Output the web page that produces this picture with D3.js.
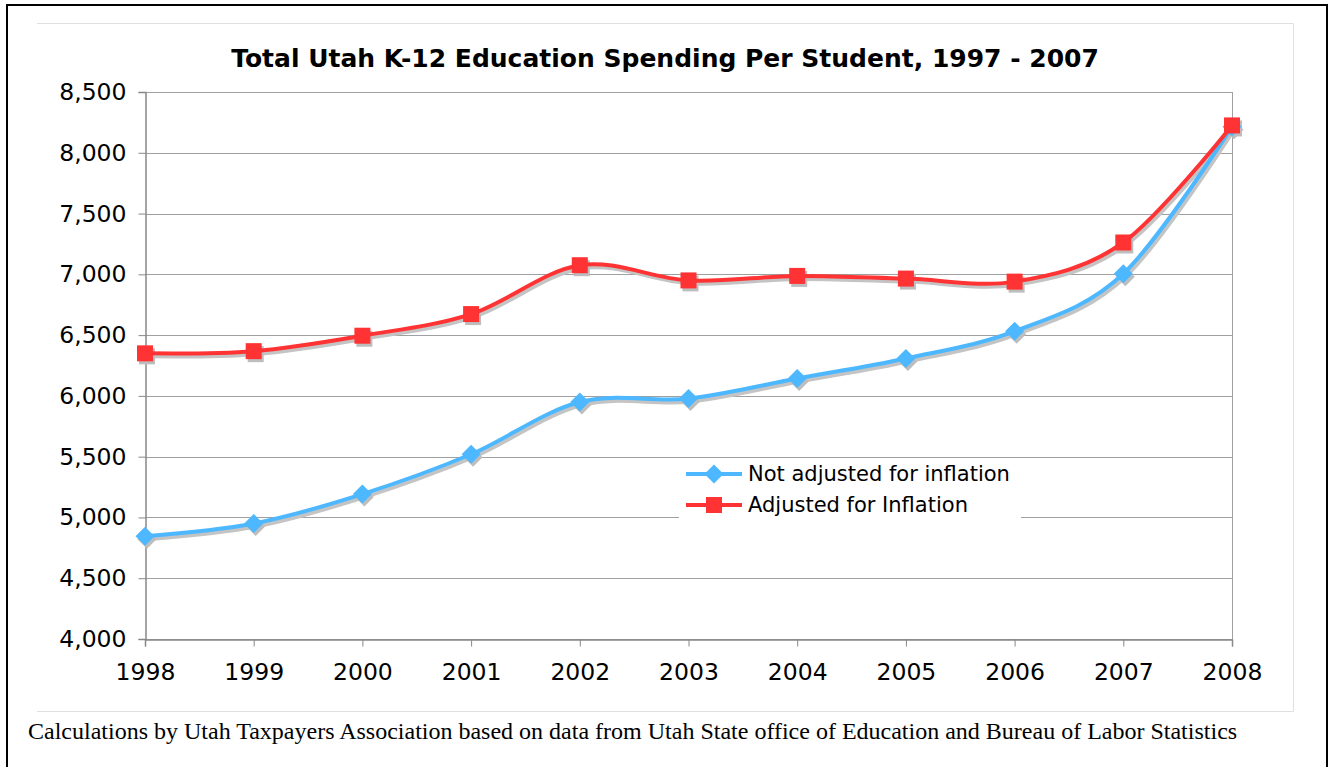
<!DOCTYPE html>
<html><head><meta charset="utf-8">
<script src="https://d3js.org/d3.v7.min.js"></script>
<style>body{margin:0;background:#fff}svg{display:block}</style>
</head><body>
<script>
const years = [1998,1999,2000,2001,2002,2003,2004,2005,2006,2007,2008];
const notAdjusted = [4845,4950,5192,5520,5950,5978,6143,6308,6532,7005,8215];
const adjusted = [6350,6368,6495,6673,7075,6950,6987,6965,6940,7262,8225];
const yTicks = [4000,4500,5000,5500,6000,6500,7000,7500,8000,8500];
const seriesNames = ["Not adjusted for inflation","Adjusted for Inflation"];
const seriesColors = ["#4db8ff","#ff3333"];
const titleText = "Total Utah K-12 Education Spending Per Student, 1997 - 2007";
const captionText = "Calculations by Utah Taxpayers Association based on data from Utah State office of Education and Bureau of Labor Statistics";

const W=1333,H=767;
const svg=d3.select("body").append("svg").attr("width",W).attr("height",H);
// outer border
svg.append("rect").attr("x",7).attr("y",5).attr("width",1320).attr("height",800)
  .attr("fill","none").attr("stroke","#000").attr("stroke-width",2);
// chart object border (top, right, bottom)
svg.append("path").attr("d","M37,23.5H1293.5V711.5H37")
  .attr("fill","none").attr("stroke","#e0e0e0").attr("stroke-width",1);

const L=145,R=1232,T=92,B=639;
const x=d3.scaleLinear().domain([1998,2008]).range([L,R]);
const y=d3.scaleLinear().domain([4000,8500]).range([B,T]);

// grid
svg.append("g").selectAll("line").data(yTicks).join("line")
  .attr("x1",L).attr("x2",R).attr("y1",d=>Math.round(y(d))+0.5).attr("y2",d=>Math.round(y(d))+0.5)
  .attr("stroke","#a0a0a0").attr("stroke-width",1);
svg.append("line").attr("x1",R+0.5).attr("x2",R+0.5).attr("y1",T).attr("y2",B).attr("stroke","#a0a0a0");

const font="DejaVu Sans, Verdana, sans-serif";
// y axis
const yAxis=svg.append("g").attr("transform",`translate(${L+0.5},0)`)
  .call(d3.axisLeft(y).tickValues(yTicks).tickSize(7).tickPadding(12).tickFormat(d3.format(",")));
yAxis.select(".domain").attr("stroke","#888").attr("stroke-width",1.5);
yAxis.selectAll(".tick line").attr("stroke","#888");
yAxis.selectAll(".tick text").attr("font-family",font).attr("font-size",23.5).attr("fill","#000");
// x axis
const xAxis=svg.append("g").attr("transform",`translate(0,${B+0.5})`)
  .call(d3.axisBottom(x).tickValues(years).tickSize(7).tickPadding(17).tickFormat(d3.format("d")));
xAxis.select(".domain").attr("stroke","#888").attr("stroke-width",1.5);
xAxis.selectAll(".tick line").attr("stroke","#888");
xAxis.selectAll(".tick text").attr("font-family",font).attr("font-size",23.5).attr("fill","#000");

const line=d3.line().x((d,i)=>x(years[i])).y(d=>y(d)).curve(d3.curveCatmullRom.alpha(0));
const series=[notAdjusted,adjusted];
const sq=16, dm=9.5;
function marker(g,type,cx,cy,color){
  if(type==="sq") g.append("rect").attr("x",cx-sq/2).attr("y",cy-sq/2).attr("width",sq).attr("height",sq).attr("fill",color);
  else g.append("path").attr("d",`M${cx},${cy-dm}L${cx+dm},${cy}L${cx},${cy+dm}L${cx-dm},${cy}Z`).attr("fill",color);
}
series.forEach((s,k)=>{
  const g=svg.append("g").attr("transform","translate(2,3)");
  g.append("path").attr("d",line(s)).attr("fill","none").attr("stroke","#c4c4c4").attr("stroke-width",4);
  s.forEach((v,i)=>marker(g,k?"sq":"dm",x(years[i]),y(v),"#bdbdbd"));
});
series.forEach((s,k)=>{
  const g=svg.append("g");
  g.append("path").attr("d",line(s)).attr("fill","none").attr("stroke",seriesColors[k]).attr("stroke-width",4);
  s.forEach((v,i)=>marker(g,k?"sq":"dm",x(years[i]),y(v),seriesColors[k]));
});

// legend
const lg=svg.append("g");
lg.append("rect").attr("x",679).attr("y",458).attr("width",342).attr("height",60).attr("fill","#fff");
seriesNames.forEach((n,k)=>{
  const cy=474+k*31;
  lg.append("line").attr("x1",686).attr("x2",742).attr("y1",cy).attr("y2",cy).attr("stroke",seriesColors[k]).attr("stroke-width",4);
  marker(lg,k?"sq":"dm",714,cy,seriesColors[k]);
  lg.append("text").attr("x",748).attr("y",cy+7).text(n)
    .attr("font-family",font).attr("font-size",21).attr("fill","#000");
});

// title
svg.append("text").attr("x",665).attr("y",67).attr("text-anchor","middle").text(titleText)
  .attr("font-family",font).attr("font-weight","bold").attr("font-size",25).attr("fill","#000");
// caption
svg.append("text").attr("x",28).attr("y",739).text(captionText)
  .attr("font-family","Liberation Serif, Times New Roman, serif").attr("font-size",24).attr("fill","#000");
</script>
</body></html>
